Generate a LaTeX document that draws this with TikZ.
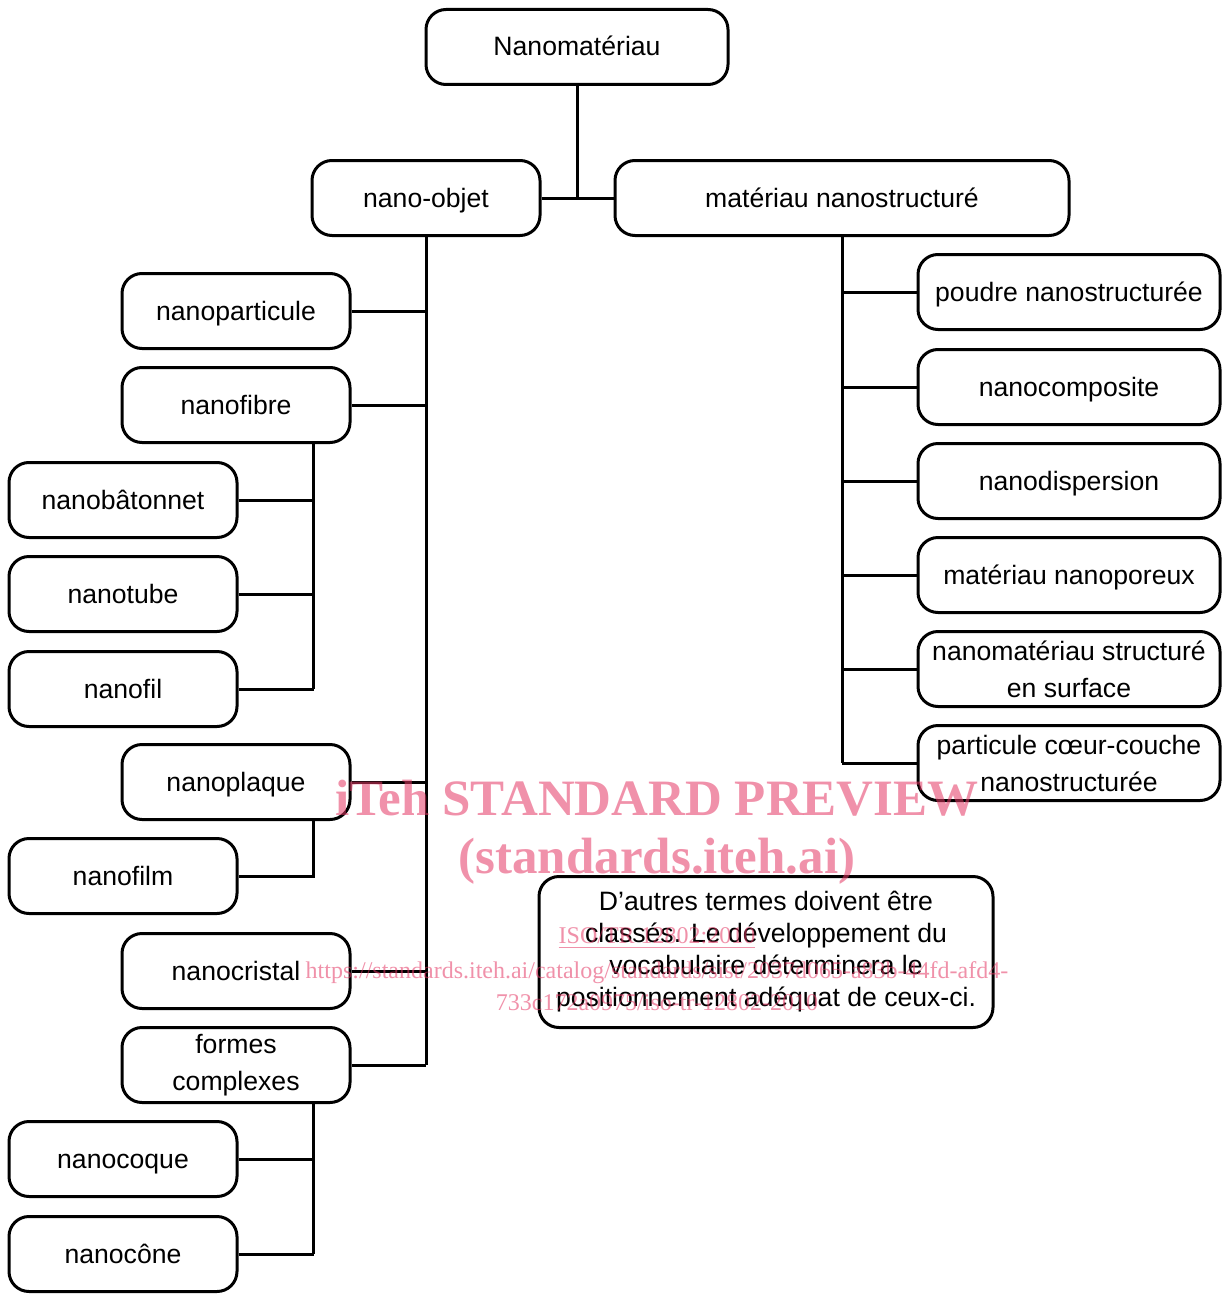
\documentclass[tikz,border=0pt]{standalone}
\usepackage{fontspec}
\setmainfont{Liberation Sans}
\newfontfamily\wmfont{Liberation Serif}
\usepackage{tikz}
\usetikzlibrary{positioning, calc}
\definecolor{wmpink}{RGB}{228, 55, 100}

\tikzset{
  termbox/.style={draw, line width=1.5pt, rounded corners=10pt, fill=white, align=center,
    minimum height=37.5pt, inner sep=0pt, text height=11.5pt, text depth=2.5pt,
    font=\fontsize{13.3}{18.5}\selectfont},
  twoline/.style={text height={}, text depth={}},
  objbox/.style={termbox, minimum width=114pt},
  widebox/.style={termbox, minimum width=151pt},
  bigbox/.style={termbox, minimum width=227pt},
  link/.style={line width=1.5pt},
  wmark/.style={text=wmpink, text opacity=0.55, font=\wmfont}
}

\begin{document}
\begin{tikzpicture}[x=0.5pt, y=-0.5pt]
  \useasboundingbox (0,0) rectangle (1221,1295);

  % top levels
  \node[widebox] (nano) at (577, 47) {Nanomatériau};
  \node[objbox] (objet) at (426, 198) {nano-objet};
  \node[bigbox] (struct) at (842, 198) {matériau nanostructuré};

  % nano-objets
  \node[objbox] (particule) at (236, 311) {nanoparticule};
  \node[objbox] (fibre) at (236, 405) {nanofibre};
  \node[objbox] (batonnet) at (123, 500) {nanobâtonnet};
  \node[objbox] (tube) at (123, 594) {nanotube};
  \node[objbox] (fil) at (123, 689) {nanofil};
  \node[objbox] (plaque) at (236, 782) {nanoplaque};
  \node[objbox] (film) at (123, 876) {nanofilm};
  \node[objbox] (cristal) at (236, 971) {nanocristal};
  \node[objbox, twoline] (formes) at (236, 1065) {formes\\complexes};
  \node[objbox] (coque) at (123, 1159) {nanocoque};
  \node[objbox] (cone) at (123, 1254) {nanocône};

  % materiaux nanostructures
  \node[widebox] (poudre) at (1069, 292) {poudre nanostructurée};
  \node[widebox] (composite) at (1069, 387) {nanocomposite};
  \node[widebox] (dispersion) at (1069, 481) {nanodispersion};
  \node[widebox] (poreux) at (1069, 575) {matériau nanoporeux};
  \node[widebox, twoline] (surface) at (1069, 669) {nanomatériau structuré\\en surface};
  \node[widebox, twoline] (coeur) at (1069, 763) {particule cœur-couche\\nanostructurée};

  % note
  \node[bigbox, twoline, minimum height=75.5pt, font=\fontsize{13.3}{16}\selectfont] (note) at (766, 952)
    {D’autres termes doivent être\\classés. Le développement du\\vocabulaire déterminera le\\positionnement adéquat de ceux-ci.};

  % branch points of the sub-groups
  \coordinate (fibretap) at ([xshift=37.5pt]fibre.south -| batonnet.east);
  \coordinate (plaquetap) at ([xshift=37.5pt]plaque.south -| film.east);
  \coordinate (formestap) at ([xshift=37.5pt]formes.south -| coque.east);

  % links
  \draw[link] (nano.south) -- (nano.south |- objet.east);
  \draw[link] (objet.east) -- (struct.west);
  \draw[link] (objet.south) -- (objet.south |- formes.east);
  \foreach \n in {particule, fibre, plaque, cristal, formes}
    \draw[link] (\n.east) -- (\n.east -| objet.south);
  \draw[link] (fibretap) -- (fibretap |- fil.east);
  \foreach \n in {batonnet, tube, fil}
    \draw[link] (\n.east) -- (\n.east -| fibretap);
  \draw[link] (plaquetap) -- (plaquetap |- film.east) -- (film.east);
  \draw[link] (formestap) -- (formestap |- cone.east);
  \foreach \n in {coque, cone}
    \draw[link] (\n.east) -- (\n.east -| formestap);
  \draw[link] (struct.south) -- (struct.south |- coeur.west);
  \foreach \n in {poudre, composite, dispersion, poreux, surface, coeur}
    \draw[link] (\n.west) -- (\n.west -| struct.south);

  % watermark
  \node[wmark, font=\wmfont\bfseries\fontsize{25.5}{29}\selectfont, align=center] (wm) at (657, 832)
    {iTeh STANDARD PREVIEW\\(standards.iteh.ai)};
  \node[wmark, font=\wmfont\fontsize{12}{16}\selectfont] (wmiso) at (657, 938)
    {\underline{ISO/TR 12802:2010}};
  \node[wmark, font=\wmfont\fontsize{12}{16}\selectfont, align=center] (wmurl) at (657, 986)
    {https://standards.iteh.ai/catalog/standards/sist/2037d065-a83b-44fd-afd4-\\733c172a0975/iso-tr-12802-2010};
\end{tikzpicture}
\end{document}
